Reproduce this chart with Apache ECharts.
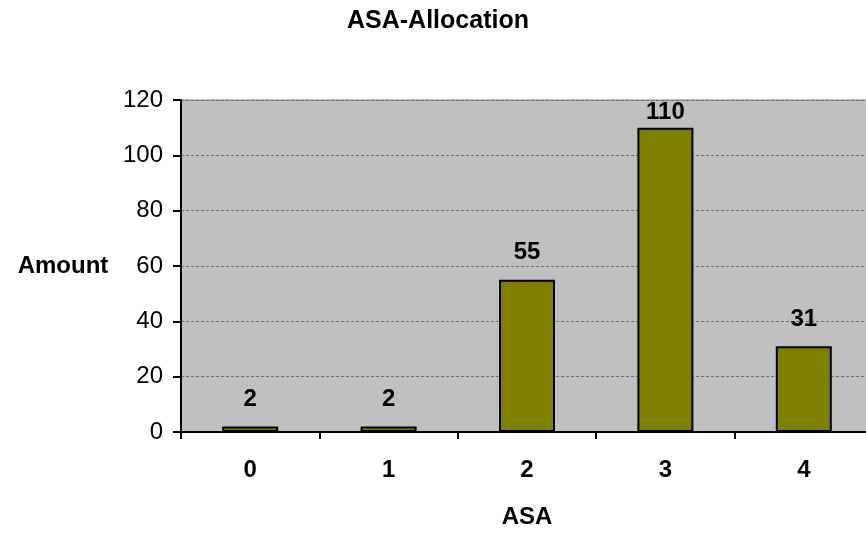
<!DOCTYPE html>
<html>
<head>
<meta charset="utf-8">
<title>ASA-Allocation</title>
<script src="https://cdn.jsdelivr.net/npm/echarts@6/dist/echarts.min.js"></script>
<style>
  html, body { margin: 0; padding: 0; background: #ffffff; overflow: hidden; }
  /* the plot area runs a few pixels past the right edge of the window */
  #chart { width: 873px; height: 534px; }
</style>
</head>
<body>
<div id="chart"></div>
<script>
// ASA class on the x axis, number of patients per class on the y axis
const categories = ['0', '1', '2', '3', '4'];
const amounts = [2, 2, 55, 110, 31];
const yTicks = [0, 20, 40, 60, 80, 100, 120];

const FONT = '"Liberation Sans", Arial, sans-serif';
const yMax = yTicks[yTicks.length - 1];
const yStep = yTicks[1] - yTicks[0];

// Value labels sit above the bars; a label that would leave the plot is kept just inside it
const barData = amounts.map(v => ({
  value: v,
  label: { distance: (yMax - v) < 15 ? 3 : 15 }
}));

const chart = echarts.init(document.getElementById('chart'), null, { renderer: 'canvas' });

chart.setOption({
  animation: false,
  backgroundColor: '#ffffff',
  title: {
    text: 'ASA-Allocation',
    left: 342,
    top: 4,
    textStyle: { fontFamily: FONT, fontSize: 25, fontWeight: 'bold', color: '#000000' }
  },
  grid: {
    left: 181,
    top: 100,
    right: 0,
    bottom: 101,
    show: true,
    backgroundColor: '#C0C0C0',
    borderColor: '#808080',
    borderWidth: 1
  },
  xAxis: {
    type: 'category',
    data: categories,
    boundaryGap: true,
    name: 'ASA',
    nameLocation: 'middle',
    nameGap: 85,
    nameTextStyle: {
      fontFamily: FONT, fontSize: 24, fontWeight: 'bold', color: '#000000',
      align: 'center', verticalAlign: 'middle'
    },
    axisLine: { show: true, lineStyle: { color: '#000000', width: 2 } },
    axisTick: { show: true, alignWithLabel: false, length: 7, lineStyle: { color: '#000000', width: 2 } },
    axisLabel: { fontFamily: FONT, fontSize: 24, fontWeight: 'bold', color: '#000000', margin: 26 },
    splitLine: { show: false }
  },
  yAxis: {
    type: 'value',
    min: yTicks[0],
    max: yMax,
    interval: yStep,
    name: 'Amount',
    nameLocation: 'middle',
    nameRotate: 0,
    nameGap: 118,
    nameTextStyle: {
      fontFamily: FONT, fontSize: 24, fontWeight: 'bold', color: '#000000',
      align: 'center', verticalAlign: 'middle'
    },
    axisLine: { show: true, lineStyle: { color: '#000000', width: 2 } },
    axisTick: { show: true, length: 8, lineStyle: { color: '#000000', width: 2 } },
    axisLabel: { fontFamily: FONT, fontSize: 24, color: '#000000', margin: 18 },
    splitLine: { show: true, lineStyle: { color: '#707070', width: 1, type: [3, 2] } }
  },
  series: [{
    type: 'bar',
    data: barData,
    barWidth: 56,
    itemStyle: { color: '#808000', borderColor: '#000000', borderWidth: 2 },
    label: {
      show: true,
      position: 'top',
      fontFamily: FONT,
      fontSize: 24,
      fontWeight: 'bold',
      color: '#000000'
    }
  }]
});
</script>
</body>
</html>
